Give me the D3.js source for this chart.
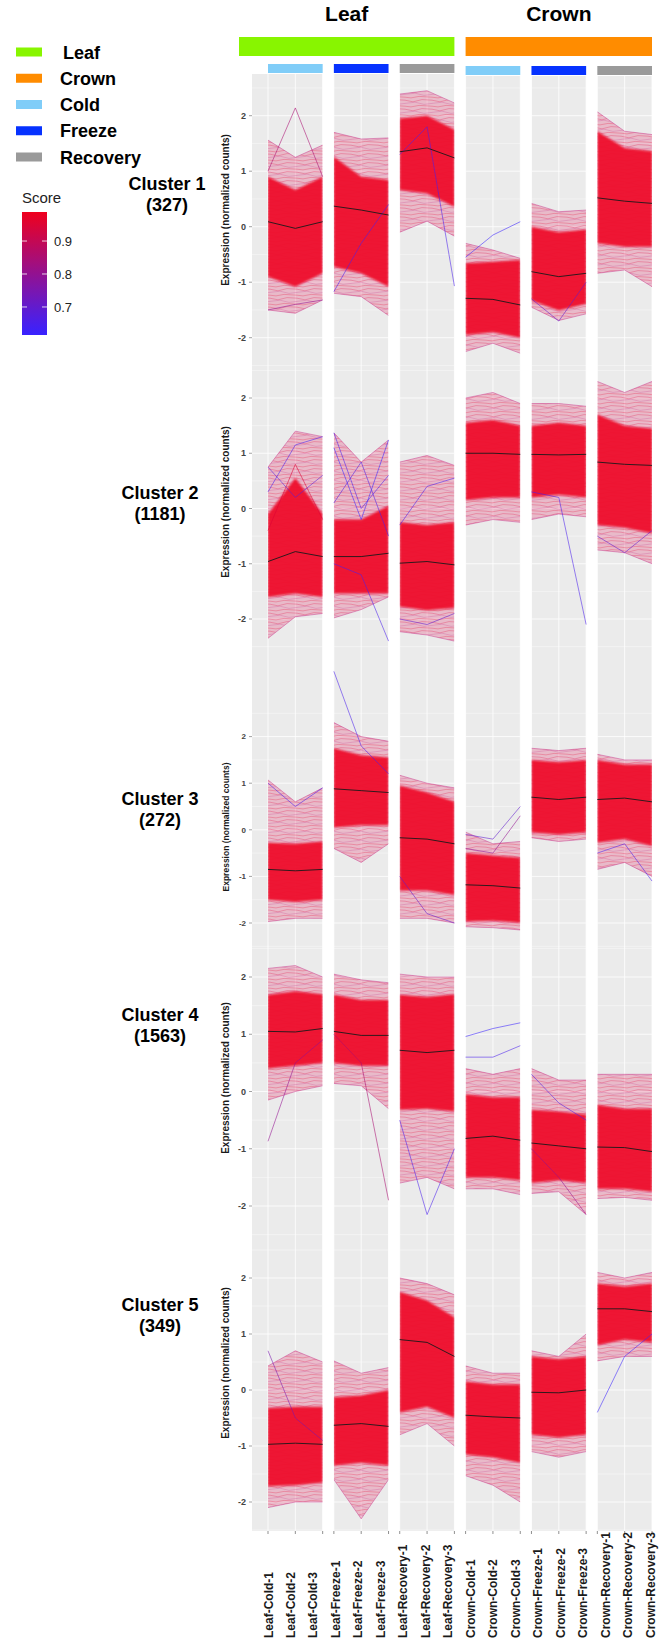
<!DOCTYPE html>
<html>
<head>
<meta charset="utf-8">
<script src="https://cdn.jsdelivr.net/npm/d3@7"></script>
<style>
  body { margin: 0; background: #fff; }
  text { font-family: "Liberation Sans", Arial, sans-serif; }
</style>
</head>
<body>
<svg id="chart" width="665" height="1643"></svg>
<script>
// ---- data ----
var samples = ["Leaf-Cold-1","Leaf-Cold-2","Leaf-Cold-3","Leaf-Freeze-1","Leaf-Freeze-2","Leaf-Freeze-3",
  "Leaf-Recovery-1","Leaf-Recovery-2","Leaf-Recovery-3","Crown-Cold-1","Crown-Cold-2","Crown-Cold-3",
  "Crown-Freeze-1","Crown-Freeze-2","Crown-Freeze-3","Crown-Recovery-1","Crown-Recovery-2","Crown-Recovery-3"];
var tissues = ["Leaf", "Crown"];
var conditions = ["Cold", "Freeze", "Recovery"];
var clusterNames = ["Cluster 1", "Cluster 2", "Cluster 3", "Cluster 4", "Cluster 5"];
var clusterSizes = [327, 1181, 272, 1563, 349];
var yTicks = [-2, -1, 0, 1, 2];
var scoreTicks = [0.7, 0.8, 0.9];

// per-sample summaries of the gene lines: mean (black line), dense core (lo..hi), outer envelope (min..max)
var c1Mean = [0.09,-0.03,0.09, 0.37,0.30,0.21, 1.35,1.42,1.24, -1.29,-1.31,-1.41, -0.81,-0.90,-0.84, 0.52,0.46,0.42];
var c1Hi   = [0.90,0.66,0.90, 1.26,0.90,0.84, 1.95,2.00,1.75, -0.66,-0.63,-0.60, 0.00,-0.10,-0.05, 1.72,1.42,1.36];
var c1Lo   = [-0.90,-1.08,-0.84, -0.72,-0.84,-1.08, 0.66,0.60,0.36, -1.95,-1.90,-2.00, -1.33,-1.51,-1.39, -0.30,-0.36,-0.36];
var c1Max  = [1.56,1.25,1.47, 1.70,1.58,1.60, 2.39,2.45,2.23, -0.30,-0.42,-0.57, 0.42,0.27,0.30, 2.07,1.72,1.66];
var c1Min  = [-1.50,-1.56,-1.32, -1.20,-1.26,-1.60, -0.10,0.10,-0.17, -2.25,-2.10,-2.28, -1.45,-1.69,-1.57, -0.84,-0.78,-1.08];

var c2Mean = [-0.96,-0.78,-0.87, -0.87,-0.87,-0.81, -0.99,-0.96,-1.02, 1.00,1.00,0.98, 0.98,0.97,0.98, 0.84,0.80,0.78];
var c2Hi   = [-0.10,0.55,-0.10, -0.20,-0.20,0.05, -0.25,-0.30,-0.25, 1.55,1.60,1.50, 1.50,1.55,1.50, 1.70,1.50,1.45];
var c2Lo   = [-1.60,-1.54,-1.60, -1.54,-1.54,-1.54, -1.78,-1.84,-1.80, 0.15,0.20,0.20, 0.20,0.25,0.20, -0.30,-0.35,-0.45];
var c2Max  = [0.75,1.40,1.30, 1.37,0.84,1.24, 0.84,0.96,0.78, 2.00,2.10,1.90, 1.90,1.90,1.85, 2.30,2.10,2.30];
var c2Min  = [-2.35,-1.96,-1.90, -1.98,-1.83,-1.60, -2.23,-2.29,-2.40, -0.30,-0.20,-0.25, -0.20,-0.10,-0.15, -0.75,-0.80,-1.00];

var c3Mean = [-0.85,-0.88,-0.85, 0.88,0.84,0.80, -0.17,-0.20,-0.30, -1.18,-1.20,-1.25, 0.70,0.65,0.70, 0.65,0.68,0.60];
var c3Hi   = [-0.28,-0.30,-0.25, 1.75,1.60,1.55, 0.95,0.80,0.60, -0.50,-0.55,-0.60, 1.50,1.45,1.50, 1.50,1.40,1.40];
var c3Lo   = [-1.50,-1.55,-1.50, 0.05,0.10,0.10, -1.30,-1.30,-1.40, -1.97,-1.95,-2.00, -0.06,-0.10,-0.06, -0.28,-0.20,-0.35];
var c3Max  = [1.07,0.60,0.90, 2.30,2.00,1.90, 1.17,1.00,0.90, -0.05,-0.30,-0.25, 1.75,1.70,1.75, 1.62,1.50,1.50];
var c3Min  = [-1.97,-1.90,-1.90, -0.40,-0.70,-0.30, -1.90,-1.90,-2.00, -2.08,-2.10,-2.15, -0.17,-0.25,-0.20, -0.85,-0.70,-1.00];

var c4Mean = [1.05,1.04,1.10, 1.05,0.98,0.98, 0.72,0.68,0.72, -0.82,-0.78,-0.85, -0.90,-0.95,-1.00, -0.97,-0.98,-1.05];
var c4Hi   = [1.69,1.75,1.70, 1.69,1.60,1.60, 1.69,1.65,1.70, -0.05,-0.10,-0.10, -0.32,-0.35,-0.40, -0.23,-0.30,-0.30];
var c4Lo   = [0.40,0.45,0.50, 0.50,0.45,0.45, -0.32,-0.30,-0.35, -1.50,-1.50,-1.55, -1.60,-1.55,-1.60, -1.70,-1.70,-1.75];
var c4Max  = [2.15,2.20,2.00, 2.05,1.95,1.90, 2.05,2.00,2.00, 0.40,0.30,0.40, 0.40,0.20,0.20, 0.30,0.30,0.30];
var c4Min  = [-0.15,0.00,0.10, 0.14,0.10,-0.30, -1.60,-1.50,-1.70, -1.70,-1.70,-1.80, -1.78,-1.75,-2.15, -1.87,-1.85,-1.90];

var c5Mean = [-0.97,-0.95,-0.97, -0.63,-0.60,-0.65, 0.90,0.85,0.60, -0.45,-0.48,-0.50, -0.04,-0.05,0.00, 1.45,1.45,1.40];
var c5Hi   = [-0.32,-0.30,-0.30, -0.13,-0.10,0.00, 1.75,1.60,1.30, 0.15,0.10,0.10, 0.60,0.55,0.60, 1.90,1.85,1.90];
var c5Lo   = [-1.72,-1.70,-1.65, -1.35,-1.30,-1.35, -0.40,-0.30,-0.50, -1.15,-1.20,-1.30, -0.80,-0.85,-0.80, 0.80,0.90,0.85];
var c5Max  = [0.43,0.70,0.50, 0.52,0.30,0.40, 2.00,1.90,1.70, 0.43,0.30,0.30, 0.70,0.60,1.00, 2.10,2.00,2.10];
var c5Min  = [-2.10,-2.00,-2.00, -1.60,-2.30,-1.60, -0.80,-0.60,-1.00, -1.53,-1.70,-2.00, -1.10,-1.20,-1.10, 0.52,0.60,0.60];

// single lines that stand out: [panel, value1, value2, value3, score]
var c1Odd = [[0,1.0,2.14,0.9,0.85],[0,-1.5,-1.4,-1.32,0.8],[1,-1.17,-0.3,0.4,0.65],[2,1.3,1.8,-1.07,0.65],[3,-0.55,-0.15,0.09,0.62],[4,-1.3,-1.7,-1.0,0.7]];
var c2Odd = [[0,-0.4,0.8,-0.2,0.95],[0,0.3,1.15,1.3,0.65],[0,0.75,0.2,0.6,0.68],[1,1.37,0.0,0.6,0.65],[1,1.1,-0.2,1.24,0.62],[1,0.1,0.84,-0.5,0.66],[1,-1.0,-1.2,-2.4,0.65],[2,-0.3,0.4,0.55,0.65],[2,-2.0,-2.1,-1.9,0.7],[4,0.3,0.2,-2.1,0.65],[5,-0.5,-0.8,-0.4,0.7]];
var c3Odd = [[1,3.4,1.8,1.2,0.65],[0,1.0,0.5,0.9,0.65],[2,-1.0,-1.8,-2.0,0.7],[3,-0.1,-0.2,0.5,0.7],[3,-0.4,-0.5,0.3,0.8],[5,-0.5,-0.3,-1.1,0.65]];
var c4Odd = [[0,-0.87,0.5,0.9,0.8],[1,1.0,0.5,-1.9,0.85],[2,-0.5,-2.15,-1.0,0.65],[3,0.96,1.1,1.2,0.62],[3,0.6,0.6,0.8,0.65],[4,0.3,-0.2,-0.5,0.66],[4,-1.0,-1.5,-2.15,0.8]];
var c5Odd = [[0,0.7,-0.5,-0.9,0.75],[5,-0.4,0.6,1.0,0.62]];

var clusters = [
  {mean:c1Mean, hi:c1Hi, lo:c1Lo, max:c1Max, min:c1Min, odd:c1Odd},
  {mean:c2Mean, hi:c2Hi, lo:c2Lo, max:c2Max, min:c2Min, odd:c2Odd},
  {mean:c3Mean, hi:c3Hi, lo:c3Lo, max:c3Max, min:c3Min, odd:c3Odd},
  {mean:c4Mean, hi:c4Hi, lo:c4Lo, max:c4Max, min:c4Min, odd:c4Odd},
  {mean:c5Mean, hi:c5Hi, lo:c5Lo, max:c5Max, min:c5Min, odd:c5Odd}
];

// ---- layout ----
var tissueColor = {"Leaf": "#88f500", "Crown": "#ff8c00"};
var condColor = {"Cold": "#80cdf8", "Freeze": "#0632ff", "Recovery": "#9a9a9a"};
// each cluster block has its own zero line and px-per-unit (the panels were stacked by hand)
var blockZero = [226.7, 508.5, 829.8, 1091.5, 1390];
var blockUnit = [55.5, 55.25, 46.6, 57.25, 56];
var labelY = [183, 492, 798, 1014, 1304];
var titleY = [210, 502, 827, 1078, 1363];

var svg = d3.select("#chart");
var defs = svg.append("defs");

var panelX = d3.scaleBand().domain(d3.range(6)).range([268, 652]).paddingInner(0.17);
var sampleX = d3.scalePoint().domain([0, 1, 2]).range([0, panelX.bandwidth()]);
function xOf(i) { return panelX(Math.floor(i / 3)) + sampleX(i % 3); }

var score = d3.scaleLinear().domain([0.62, 0.99]).range(["#3a22ff", "#f0001c"]).interpolate(d3.interpolateRgb);

// soft edge for the dense core, and a thin-line texture for the sparse outer lines
defs.append("filter").attr("id", "soft").attr("x", "-5%").attr("y", "-20%").attr("width", "110%").attr("height", "140%")
  .append("feGaussianBlur").attr("stdDeviation", 1.3);
var pat = defs.append("pattern").attr("id", "strands").attr("patternUnits", "userSpaceOnUse")
  .attr("width", 27).attr("height", 9);
pat.append("path").attr("d", "M0,1.2 L8,2.8 L17,0.6 L27,1.2").attr("fill", "none").attr("stroke", "#e2184c").attr("stroke-width", 0.6);
pat.append("path").attr("d", "M0,4.4 L10,3.2 L19,5.4 L27,4.4").attr("fill", "none").attr("stroke", "#c8348a").attr("stroke-width", 0.5);
pat.append("path").attr("d", "M0,7.2 L6,7.9 L14,6.4 L27,7.2").attr("fill", "none").attr("stroke", "#e80f38").attr("stroke-width", 0.55);
d3.range(6).forEach(function(p) {
  defs.append("clipPath").attr("id", "clip" + p).append("rect")
    .attr("x", panelX(p)).attr("y", 0).attr("width", panelX.bandwidth()).attr("height", 1643);
});

// gray strips
var stripTop = 74, stripBottom = 1531;
var strips = svg.append("g");
d3.range(6).forEach(function(p) {
  var x0 = panelX(p) - (p === 0 ? 16 : 0);
  var top = p < 3 ? stripTop : stripTop + 2;
  strips.append("rect")
    .attr("x", x0).attr("y", top)
    .attr("width", panelX(p) + panelX.bandwidth() - x0)
    .attr("height", stripBottom - top)
    .attr("fill", "#ebebeb");
  [0, 1, 2].forEach(function(k) {
    strips.append("line")
      .attr("x1", xOf(p * 3 + k)).attr("x2", xOf(p * 3 + k))
      .attr("y1", top).attr("y2", stripBottom)
      .attr("stroke", "#fff").attr("stroke-width", 0.8);
    strips.append("line")
      .attr("x1", xOf(p * 3 + k)).attr("x2", xOf(p * 3 + k))
      .attr("y1", stripBottom).attr("y2", stripBottom + 3)
      .attr("stroke", "#444").attr("stroke-width", 0.6);
  });
});

// top bars
tissues.forEach(function(t, ti) {
  var x0 = panelX(ti * 3) - (ti === 0 ? 29 : 0);
  var x1 = panelX(ti * 3 + 2) + panelX.bandwidth();
  svg.append("rect").attr("x", x0).attr("y", 37).attr("width", x1 - x0).attr("height", 19)
    .attr("fill", tissueColor[t]);
  svg.append("text").attr("x", (x0 + x1) / 2).attr("y", 21)
    .attr("text-anchor", "middle").attr("font-size", 21).attr("font-weight", "bold")
    .text(t);
  conditions.forEach(function(c, ci) {
    var p = ti * 3 + ci;
    svg.append("rect").attr("x", panelX(p)).attr("y", ti === 0 ? 64 : 66)
      .attr("width", panelX.bandwidth()).attr("height", 9)
      .attr("fill", condColor[c]);
  });
});

// clusters
clusters.forEach(function(cl, ci) {
  var y = d3.scaleLinear().domain([-1, 1]).range([blockZero[ci] + blockUnit[ci], blockZero[ci] - blockUnit[ci]]);
  var g = svg.append("g");

  // horizontal grid
  d3.range(-2.5, 2.51, 0.5).forEach(function(v) {
    var major = Math.abs(v % 1) < 1e-6;
    d3.range(6).forEach(function(p) {
      var x0 = panelX(p) - (p === 0 ? 16 : 0);
      g.append("line").attr("x1", x0).attr("x2", panelX(p) + panelX.bandwidth())
        .attr("y1", y(v)).attr("y2", y(v))
        .attr("stroke", "#fff").attr("stroke-width", major ? 0.8 : 0.4);
    });
  });

  d3.range(6).forEach(function(p) {
    var idx = [p * 3, p * 3 + 1, p * 3 + 2];
    var band = function(a, b) {
      return d3.area().x(function(i) { return xOf(i); })
        .y0(function(i) { return y(a[i]); }).y1(function(i) { return y(b[i]); })(idx);
    };
    var line = function(a) {
      return d3.line().x(function(i) { return xOf(i); }).y(function(i) { return y(a[i]); })(idx);
    };
    var pg = g.append("g").attr("clip-path", "url(#clip" + p + ")");
    pg.append("path").attr("d", band(cl.min, cl.max)).attr("fill", "#e0306a").attr("fill-opacity", 0.26);
    pg.append("path").attr("d", band(cl.min, cl.max)).attr("fill", "url(#strands)").attr("fill-opacity", 0.5);
    pg.append("path").attr("d", band(cl.lo, cl.hi)).attr("fill", "#ee0a2c").attr("fill-opacity", 0.95)
      .attr("filter", "url(#soft)");
    [cl.min, cl.max].forEach(function(a) {
      pg.append("path").attr("d", line(a)).attr("fill", "none")
        .attr("stroke", "#c8368c").attr("stroke-width", 0.6).attr("stroke-opacity", 0.8);
    });
  });

  cl.odd.forEach(function(o) {
    var p = o[0];
    var pts = [1, 2, 3].map(function(k) { return [xOf(p * 3 + k - 1), y(o[k])]; });
    g.append("path").attr("d", d3.line()(pts)).attr("fill", "none")
      .attr("stroke", score(o[4])).attr("stroke-width", 0.7).attr("stroke-opacity", 0.8);
  });

  d3.range(6).forEach(function(p) {
    var idx = [p * 3, p * 3 + 1, p * 3 + 2];
    g.append("path")
      .attr("d", d3.line().x(function(i) { return xOf(i); }).y(function(i) { return y(cl.mean[i]); })(idx))
      .attr("fill", "none").attr("stroke", "#1a1a1a").attr("stroke-width", 0.9);
  });

  // y axis
  var fs = ci === 2 ? 8 : 9;
  yTicks.forEach(function(t) {
    g.append("text").attr("x", 246).attr("y", y(t)).attr("dy", "0.35em")
      .attr("text-anchor", "end").attr("font-size", fs).attr("font-weight", "bold")
      .attr("fill", "#444").text(t);
    g.append("line").attr("x1", 249).attr("x2", 252).attr("y1", y(t)).attr("y2", y(t))
      .attr("stroke", "#444").attr("stroke-width", 0.5);
  });
  g.append("text")
    .attr("transform", "translate(229," + titleY[ci] + ") rotate(-90)")
    .attr("text-anchor", "middle").attr("font-size", ci === 2 ? 8.5 : 10).attr("font-weight", "bold")
    .attr("fill", "#1a1a1a").text("Expression (normalized counts)");

  // cluster label
  var lx = ci === 0 ? 167 : 160;
  g.append("text").attr("x", lx).attr("y", labelY[ci] + 7).attr("text-anchor", "middle")
    .attr("font-size", 18).attr("font-weight", "bold").text(clusterNames[ci]);
  g.append("text").attr("x", lx).attr("y", labelY[ci] + 28).attr("text-anchor", "middle")
    .attr("font-size", 18).attr("font-weight", "bold").text("(" + clusterSizes[ci] + ")");
});

// x labels
var labelX = d3.scalePoint().domain(samples).range([268, 650]);
svg.append("g").selectAll("text").data(samples).enter().append("text")
  .attr("transform", function(d) { return "translate(" + (labelX(d) + 4.5) + ",1638) rotate(-90)"; })
  .attr("font-size", 12).attr("font-weight", "bold").attr("fill", "#1a1a1a")
  .text(function(d) { return d; });

// legend: tissues & conditions
var legendItems = tissues.concat(conditions);
var legendColor = legendItems.map(function(k) { return tissueColor[k] || condColor[k]; });
var legY = d3.scalePoint().domain(legendItems).range([52, 157]);
var leg = svg.append("g");
legendItems.forEach(function(k, i) {
  leg.append("rect").attr("x", 16).attr("y", legY(k) - 4.5).attr("width", 26).attr("height", 9)
    .attr("fill", legendColor[i]);
  leg.append("text").attr("x", i === 0 ? 63 : 60).attr("y", legY(k) + 6.5)
    .attr("font-size", 18).attr("font-weight", "bold").text(k);
});

// legend: score colourbar
var scoreY = d3.scaleLinear().domain([0.615, 0.988]).range([335, 212]);
var grad = defs.append("linearGradient").attr("id", "scoreGrad")
  .attr("x1", 0).attr("y1", 1).attr("x2", 0).attr("y2", 0);
d3.range(0, 1.001, 0.1).forEach(function(f) {
  grad.append("stop").attr("offset", f)
    .attr("stop-color", score(0.615 + f * (0.988 - 0.615)));
});
leg.append("text").attr("x", 22).attr("y", 203).attr("font-size", 15).attr("fill", "#222").text("Score");
leg.append("rect").attr("x", 22).attr("y", 212).attr("width", 25).attr("height", 123)
  .attr("fill", "url(#scoreGrad)");
scoreTicks.forEach(function(t) {
  leg.append("line").attr("x1", 22).attr("x2", 27).attr("y1", scoreY(t)).attr("y2", scoreY(t))
    .attr("stroke", "#fff").attr("stroke-width", 0.8);
  leg.append("line").attr("x1", 42).attr("x2", 47).attr("y1", scoreY(t)).attr("y2", scoreY(t))
    .attr("stroke", "#fff").attr("stroke-width", 0.8);
  leg.append("text").attr("x", 54).attr("y", scoreY(t)).attr("dy", "0.35em")
    .attr("font-size", 13).attr("fill", "#222").text(t);
});
</script>
</body>
</html>
